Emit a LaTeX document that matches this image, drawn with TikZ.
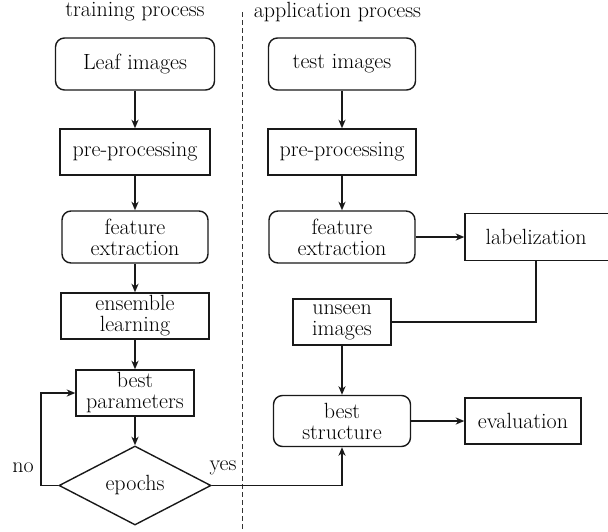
\documentclass[tikz,border=0pt]{standalone}
\usetikzlibrary{shapes.geometric,arrows.meta}
\begin{document}
\begin{tikzpicture}[x=1pt,y=-1pt,
  font=\fontsize{22}{21}\selectfont\rmfamily,
  base/.style={draw=black!90,line width=1.4pt,align=center,inner sep=0pt},
  rbox/.style={base,rounded corners=9pt},
  sbox/.style={base},
  arr/.style={line width=1.4pt,draw=black!90,-{Stealth[length=8.5pt,width=7pt,inset=2.5pt]}},
  ln/.style={line width=1.4pt,draw=black!90}]
\useasboundingbox (0,0) rectangle (608,531);
\node (t1) at (135,12) {training process};
\node (t2) at (337.5,12) {application process};
\draw[line width=1pt,black!80,dash pattern=on 5pt off 3pt] (242,12) -- (242,531);
% left column
\node[rbox,minimum width=159pt,minimum height=52pt] (L1) at (135,64) {Leaf images};
\node[sbox,minimum width=150pt,minimum height=46pt] (L2) at (135,152) {pre-processing};
\node[rbox,minimum width=146pt,minimum height=52pt] (L3) at (135,237) {feature\\extraction};
\node[sbox,minimum width=148pt,minimum height=46pt] (L4) at (135,316) {ensemble\\learning};
\node[sbox,minimum width=118pt,minimum height=46pt] (L5) at (135,393) {best\\parameters};
\node[base,diamond,minimum width=152pt,minimum height=79pt,aspect=1.92] (L6) at (135,485.5) {epochs};
% right column
\node[rbox,minimum width=147pt,minimum height=52pt] (R1) at (342,64) {test images};
\node[sbox,minimum width=148pt,minimum height=46pt] (R2) at (342,152) {pre-processing};
\node[rbox,minimum width=146pt,minimum height=52pt] (R3) at (342,237) {feature\\extraction};
\node[sbox,minimum width=146pt,minimum height=47pt] (R4) at (538,237) {};
\node (R4t) at (536,237) {labelization};
\node[sbox,minimum width=98pt,minimum height=46pt] (R5) at (342,322) {unseen\\images};
\node[rbox,minimum width=137pt,minimum height=51pt] (R6) at (342,421) {best\\structure};
\node[sbox,minimum width=116pt,minimum height=46pt] (R7) at (523,421) {evaluation};
\node (no) at (23,468) {no};
\node (yes) at (223,468) {yes};
% connectors
\draw[arr] (L1) -- (L2);
\draw[arr] (L2) -- (L3);
\draw[arr] (L3) -- (L4);
\draw[arr] (L4) -- (L5);
\draw[arr] (L5) -- (L6);
\coordinate (c1) at (41,485.5);
\coordinate (c2) at (41,393);
\draw[arr] (L6.west) -- (c1) -- (c2) -- (L5.west);
\draw[arr] (L6.east) -| (R6.south);
\draw[arr] (R1) -- (R2);
\draw[arr] (R2) -- (R3);
\draw[arr] (R3.east) -- (R4.west);
\draw[ln] (R4.south -| R4t) |- (R5.east);
\draw[arr] (R5) -- (R6);
\draw[arr] (R6.east) -- (R7.west);
\end{tikzpicture}
\end{document}
